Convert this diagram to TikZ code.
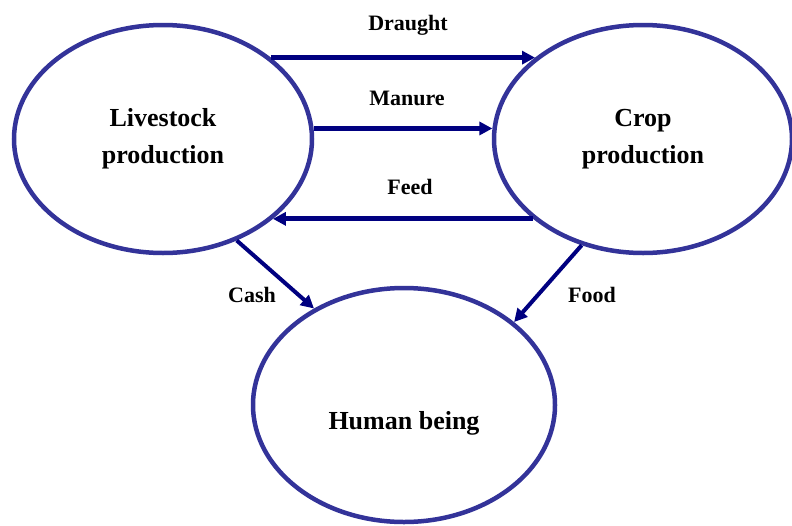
\documentclass[tikz,border=0pt]{standalone}
\usepackage{fontspec}
\setmainfont{Liberation Serif}
\usetikzlibrary{shapes.geometric,arrows.meta}
\definecolor{ringblue}{RGB}{51,51,153}
\definecolor{flownavy}{RGB}{0,0,128}
\tikzstyle{sector}=[ellipse, draw=ringblue, line width=4.5pt,
  minimum width=298pt, minimum height=228pt, inner sep=0pt, align=center,
  font=\fontsize{26}{37}\selectfont\bfseries]
\tikzstyle{flow}=[-{Triangle[length=13pt,width=13pt]}, line width=5pt, flownavy]
\tikzstyle{flowlabel}=[font=\fontsize{22}{26}\selectfont\bfseries, inner sep=0pt]

\begin{document}
\begin{tikzpicture}[x=1pt,y=-1pt]
  \useasboundingbox (0,0) rectangle (792,525);

    % the three parts of the farm system
    \node[sector] (live) at (163,139) {Livestock\\ production};
    \node[sector] (crop) at (643,139) {Crop\\ production};
    \node[sector, minimum width=302pt, minimum height=234pt] (human) at (404,405) {};
    \node[font=\fontsize{26}{37}\selectfont\bfseries] (humantext) at (404,423) {Human being};

    % flow labels
    \node[flowlabel] (ldraught) at (408,25) {Draught};
    \node[flowlabel] (lmanure) at (407,98) {Manure};
    \node[flowlabel] (lfeed) at (410,187) {Feed};
    \node[flowlabel] (lcash) at (252,295) {Cash};
    \node[flowlabel] (lfood) at (592,295) {Food};

    \draw[flow] (live.37) -- (crop.143);
    \draw[flow] (live.4) -- (crop.176);
    \draw[flow] (crop.216) -- (live.-36);
    \draw[flow, line width=4pt] (live.-54) -- (human.133);
    \draw[flow, line width=4pt] (crop.240) -- (human.37.6);

  \end{tikzpicture}
\end{document}
